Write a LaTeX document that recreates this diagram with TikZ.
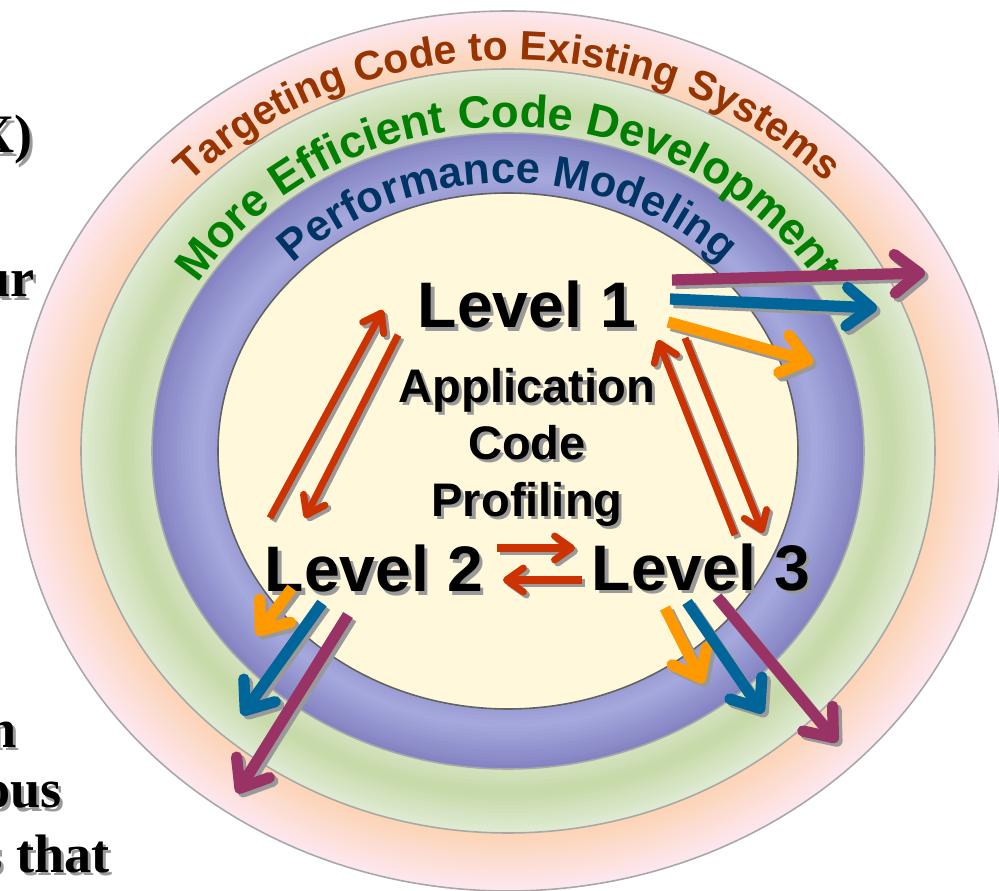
\documentclass[tikz,border=0pt]{standalone}
\usepackage{fontspec}
\setmainfont{Liberation Serif}
\setsansfont{Liberation Sans}
\usetikzlibrary{arrows.meta,decorations.text}

\definecolor{ringpink}{HTML}{FDE7EF}
\definecolor{ringpeach}{HTML}{FCD3B2}
\definecolor{greenlight}{HTML}{DEEBD2}
\definecolor{greendark}{HTML}{C6D9A7}
\definecolor{purpdark}{HTML}{8484C3}
\definecolor{purplight}{HTML}{A6A9DD}
\definecolor{cream}{HTML}{FFF8DA}
\definecolor{ringline}{HTML}{A8A8A8}
\definecolor{redar}{HTML}{CC3300}
\definecolor{orangear}{HTML}{FF9900}
\definecolor{bluear}{HTML}{006699}
\definecolor{magar}{HTML}{993366}
\definecolor{shadowgray}{HTML}{999999}
\definecolor{ringshadow}{HTML}{B8B8B8}
\definecolor{tgtc}{HTML}{993300}
\definecolor{effc}{HTML}{008000}
\definecolor{perfc}{HTML}{003366}

% text with a grey drop shadow
\newcommand\shtext[1]{\leavevmode\rlap{\kern0.9pt\raisebox{-0.9pt}{\textcolor{shadowgray}{#1}}}#1}
% text along the top of a ring: x radius, y radius, colour, size, text
\newcommand\ringtext[5]{%
	\foreach \col/\off in {ringshadow/2.5, #3/0}
	\path[transform canvas={shift={(\off,-\off)}}, decorate,
		decoration={text along path, text align=center,
			text={|\sffamily\bfseries\fontsize{#4}{#4}\selectfont\color{\col}|#5}}]
		(C) ++(178:#1 and #2) arc[start angle=178, end angle=2, x radius=#1, y radius=#2];
}

\tikzset{
	redarrow/.style={line width=2pt, -{Straight Barb[length=4.8pt,width=6.8pt,round]}},
	bigarrow/.style={line width=3.2pt, -{Straight Barb[length=7pt,width=11pt,round]}},
	level/.style={font=\sffamily\bfseries\fontsize{18.3}{20}\selectfont, anchor=base, inner sep=0pt},
	fragment/.style={font=\rmfamily\bfseries\fontsize{15.4}{18}\selectfont, anchor=base east, inner sep=0pt},
	ringborder/.style={draw=ringline, line width=0.45pt}
}

\begin{document}
\begin{tikzpicture}[x=0.01cm, y=0.01cm]
		\useasboundingbox (0,0) rectangle (999,890);
		\clip (0,0) rectangle (999,890);
		\coordinate (C) at (508,439);
		%
		% rings, outside in
		\foreach \i in {0,...,16} {
			\pgfmathsetmacro\f{\i/16}
			\pgfmathsetmacro\p{100*\f}
			\colorlet{bandc}{ringpeach!\p!ringpink}
			\fill[bandc] (C) ellipse [x radius={492-65*\f}, y radius={440-58*\f}];
		}
		\foreach \i in {0,...,16} {
			\pgfmathsetmacro\f{\i/16}
			\pgfmathsetmacro\p{\f<0.6 ? 100*\f/0.6 : 100-60*(\f-0.6)/0.4}
			\colorlet{bandc}{greendark!\p!greenlight}
			\fill[bandc] (C) ellipse [x radius={427-71*\f}, y radius={382-64*\f}];
		}
		\foreach \i in {0,...,16} {
			\pgfmathsetmacro\f{\i/16}
			\pgfmathsetmacro\p{\f<0.7 ? 100*\f/0.7 : 100-40*(\f-0.7)/0.3}
			\colorlet{bandc}{purplight!\p!purpdark}
			\fill[bandc] (C) ellipse [x radius={356-66*\f}, y radius={318-60*\f}];
		}
		\draw[ringborder] (C) ellipse [x radius=492, y radius=440];
		\draw[ringborder] (C) ellipse [x radius=427, y radius=382];
		\draw[ringborder] (C) ellipse [x radius=356, y radius=318];
		\draw[fill=cream, draw=black!62, line width=0.45pt] (C) ellipse [x radius=290, y radius=258];
		%
		% ring titles
		\ringtext{437}{391}{tgtc}{11.6}{Targeting Code to Existing Systems}
		\ringtext{362}{324}{effc}{12.9}{More Efficient Code Development}
		\ringtext{300}{268}{perfc}{12.4}{Performance Modeling}
		%
		% cut off text at the left
		\node[fragment] (F1) at (33,737) {\shtext{X)}};
		\node[fragment] (F2) at (35,593) {\shtext{ur}};
		\node[fragment] (F3) at (17,143) {\shtext{n}};
		\node[fragment] (F4) at (62,82) {\shtext{ous}};
		\node[fragment] (F5) at (110,18) {\shtext{s that}};
		%
		\node[level] (L1) at (527,562) {\shtext{Level 1}};
		\node[level] (L2) at (374,298) {\shtext{Level 2}};
		\node[level] (L3) at (701,300) {\shtext{Level 3}};
		\node[align=center, inner sep=0pt, font=\sffamily\bfseries\fontsize{13.4}{16.2}\selectfont]
			(APP) at (527,441) {\shtext{Application}\\\shtext{Code}\\\shtext{Profiling}};
		%
		% arrow ends
		\coordinate (r1a) at (270,372); \coordinate (r1b) at (383,580);
		\coordinate (r2a) at (398,555); \coordinate (r2b) at (305,372);
		\coordinate (r3a) at (497,342); \coordinate (r3b) at (575,342);
		\coordinate (r4a) at (582,310); \coordinate (r4b) at (503,310);
		\coordinate (r5a) at (735,355); \coordinate (r5b) at (658,550);
		\coordinate (r6a) at (685,552); \coordinate (r6b) at (763,357);
		\coordinate (m1a) at (672,610); \coordinate (m1b) at (925,617);
		\coordinate (b1a) at (670,591); \coordinate (b1b) at (877,582);
		\coordinate (o1a) at (668,568); \coordinate (o1b) at (813,528);
		\coordinate (o2a) at (292,302); \coordinate (o2b) at (257,255);
		\coordinate (b2a) at (322,287); \coordinate (b2b) at (242,175);
		\coordinate (m2a) at (348,275); \coordinate (m2b) at (237,97);
		\coordinate (o3a) at (665,282); \coordinate (o3b) at (703,207);
		\coordinate (b3a) at (687,288); \coordinate (b3b) at (763,177);
		\coordinate (m3a) at (717,293); \coordinate (m3b) at (837,148);
		%
		% between the levels
		\foreach \s/\t in {r1a/r1b, r2a/r2b, r3a/r3b, r4a/r4b, r5a/r5b, r6a/r6b} {
			\draw[redarrow, shadowgray, transform canvas={shift={(3,-3)}}] (\s) -- (\t);
			\draw[redarrow, redar] (\s) -- (\t);
		}
		% out of the levels
		\foreach \s/\t/\c in {m1a/m1b/magar, b1a/b1b/bluear, o1a/o1b/orangear,
			o2a/o2b/orangear, b2a/b2b/bluear, m2a/m2b/magar,
			o3a/o3b/orangear, b3a/b3b/bluear, m3a/m3b/magar} {
			\draw[bigarrow, shadowgray, transform canvas={shift={(3.5,-3.5)}}] (\s) -- (\t);
			\draw[bigarrow, \c] (\s) -- (\t);
		}
	\end{tikzpicture}
\end{document}
